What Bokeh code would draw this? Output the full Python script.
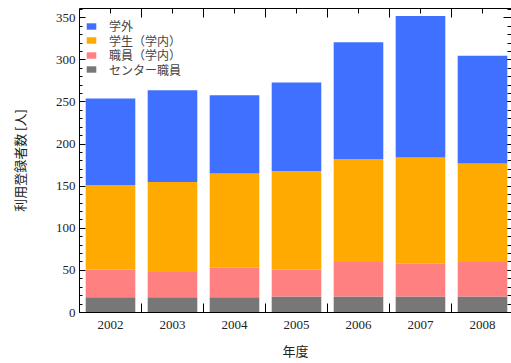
from bokeh.plotting import figure
from bokeh.models import (ColumnDataSource, FixedTicker, SingleIntervalTicker,
                          LinearAxis, Range1d, Legend, LegendItem)
from bokeh.embed import file_html
from bokeh.resources import INLINE

# Registered users per fiscal year, by category
years = [2002, 2003, 2004, 2005, 2006, 2007, 2008]
center_staff = [18, 18, 18, 19, 19, 19, 19]        # センター職員
campus_staff = [33, 30, 35, 32, 41, 39, 41]        # 職員（学内）
students = [100, 107, 112, 117, 122, 126, 117]     # 学生（学内）
external = [103, 109, 93, 105, 139, 168, 128]      # 学外

series_keys = ["center", "staff", "students", "external"]
series_labels = ["センター職員", "職員（学内）", "学生（学内）", "学外"]
series_colors = ["#777777", "#ff8080", "#ffaa00", "#4070ff"]

source = ColumnDataSource(dict(x=years, center=center_staff, staff=campus_staff,
                               students=students, external=external))

JP_FONT = "Noto Sans CJK JP"
NUM_FONT = "Times New Roman"
COMPACT_JP_FONT = "Liberation Sans, Noto Sans CJK JP"
TEXT_COLOR = "#222222"

BORDER_TOP, BORDER_BOTTOM = 8, 51
FRAME_H = 363 - BORDER_TOP - BORDER_BOTTOM   # plot frame height in px

p = figure(width=511, height=363,
           x_range=Range1d(2001.5, 2008.468), y_range=Range1d(0, 361),
           x_axis_location=None, y_axis_location=None,
           output_backend="svg", toolbar_location=None,
           min_border_left=79, min_border_right=0,
           min_border_top=BORDER_TOP, min_border_bottom=BORDER_BOTTOM)
p.outline_line_color = None
p.background_fill_color = "white"
p.border_fill_color = "white"
p.grid.visible = False

renderers = p.vbar_stack(series_keys, x="x", width=0.8, source=source,
                         color=series_colors, line_color=None)

# x ticks: labels at bar centres, long ticks between bars
xticker = FixedTicker(ticks=years, minor_ticks=[y + 0.5 for y in years[:-1]])
yticker = SingleIntervalTicker(interval=50, num_minor_ticks=5)


def style_axis(ax):
    ax.axis_line_color = "black"
    ax.major_tick_line_color = "black"
    ax.minor_tick_line_color = "black"
    ax.major_tick_out = 0
    ax.minor_tick_out = 0
    ax.major_label_text_font = NUM_FONT
    ax.major_label_text_font_size = "13px"
    ax.major_label_text_color = TEXT_COLOR
    ax.axis_label_text_font = JP_FONT
    ax.axis_label_text_font_size = "13px"
    ax.axis_label_text_font_style = "normal"
    ax.axis_label_text_color = TEXT_COLOR


bottom = LinearAxis(ticker=xticker, axis_label="年度",
                    major_label_overrides={y: str(y) for y in years})
style_axis(bottom)
bottom.axis_label_text_font = COMPACT_JP_FONT
bottom.major_tick_in = 0
bottom.minor_tick_in = 9
bottom.major_label_standoff = 8
bottom.axis_label_standoff = 12
p.add_layout(bottom, "below")

# top and right axes carry ticks only
top = LinearAxis(ticker=xticker, major_label_overrides={y: "" for y in years})
style_axis(top)
top.major_tick_in = 5
top.minor_tick_in = 9
top.major_label_standoff = 0
p.add_layout(top, "above")

left = LinearAxis(ticker=yticker, axis_label="利用登録者数 [人]")
style_axis(left)
left.major_tick_in = 6
left.minor_tick_in = 3
left.major_label_standoff = 4
left.axis_label_standoff = 24
p.add_layout(left, "left")

right = LinearAxis(ticker=yticker,
                   major_label_overrides={v: "" for v in range(0, 400, 50)})
style_axis(right)
right.level = "underlay"
right.axis_line_color = None
right.major_tick_in = 8
right.minor_tick_in = 4
right.major_label_standoff = 0
p.add_layout(right, "right")

# Legend, top of the stack first; one single-row legend per entry so the
# rows can sit closer together than a default legend spaces them
ROW_TOP = 27       # canvas y of the first row's centre
ROW_STEP = 14.6
ROW_BOX = 14       # height of one legend row box
for i, (lab, r) in enumerate(zip(reversed(series_labels), reversed(renderers))):
    centre = ROW_TOP + i * ROW_STEP - BORDER_TOP
    lg = Legend(items=[LegendItem(label=lab, renderers=[r])],
                location=(6, FRAME_H - centre - ROW_BOX / 2),
                glyph_width=12, glyph_height=8, label_height=12,
                label_standoff=12, spacing=0, padding=0, margin=0,
                label_text_font=COMPACT_JP_FONT, label_text_font_size="12px",
                label_text_color="#444444",
                border_line_color=None, background_fill_alpha=0)
    p.add_layout(lg, "center")

open("out.html", "w").write(file_html(p, INLINE))
